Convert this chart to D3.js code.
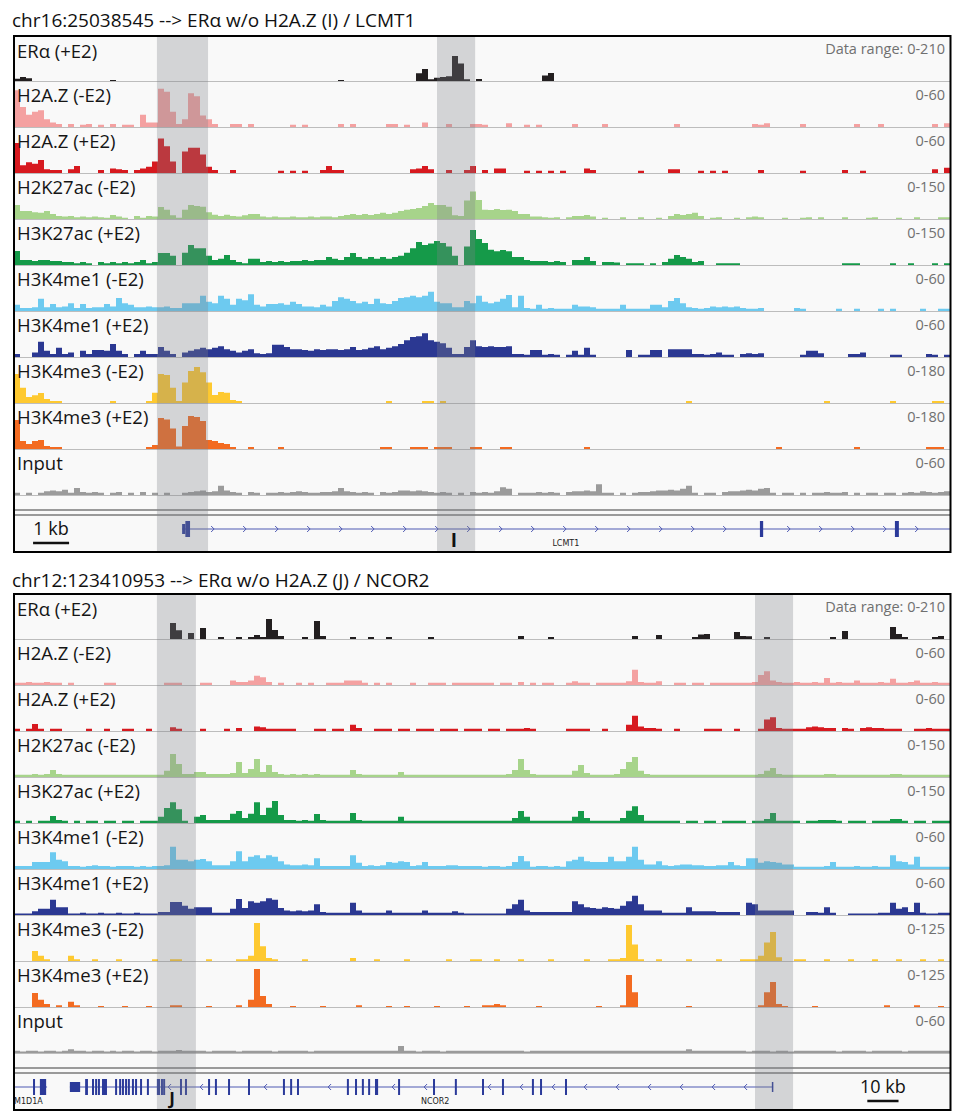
<!DOCTYPE html>
<html>
<head>
<meta charset="utf-8">
<script src="https://d3js.org/d3.v7.min.js"></script>
<style>
  body { margin: 0; background: #fff; }
  svg { display: block; font-family: "Open Sans", sans-serif; }
</style>
</head>
<body>
<svg id="chart" width="954" height="1118"></svg>
<script>
// ---------------- track metadata ----------------
const trackLabels = ["ERα (+E2)", "H2A.Z (-E2)", "H2A.Z (+E2)", "H2K27ac (-E2)", "H3K27ac (+E2)",
  "H3K4me1 (-E2)", "H3K4me1 (+E2)", "H3K4me3 (-E2)", "H3K4me3 (+E2)", "Input"];
const lcmt1Ranges = [210, 60, 60, 150, 150, 60, 60, 180, 180, 60];
const ncor2Ranges = [210, 60, 60, 150, 150, 60, 60, 125, 125, 60];

// ---------------- locus 1: LCMT1 (26 kb window, 156 bins) ----------------
const lcmt1ERa = [
10,18,12,0,0,0,0,0,0,0, 0,0,0,0,0,0,4,0,0,0, 0,0,0,0,0,0,0,0,0,0, 0,0,0,0,0,0,0,0,0,0,
0,0,0,0,0,0,0,0,0,0, 0,0,0,0,4,0,0,0,0,0, 0,0,0,0,0,0,0,35,55,8, 15,18,22,114,80,8,0,9,0,0,
0,0,0,0,0,0,0,0,25,36, 0,0,0,0,0,0,0,0,0,0, 0,0,0,0,0,0,0,0,0,0, 0,0,0,0,0,0,0,0,0,0,
0,0,0,0,0,0,0,0,0,0, 0,0,0,0,0,0,0,0,0,0, 0,0,0,0,0,0,0,0,0,0, 0,0,0,0,0,0];
const lcmt1H2AZm = [
48,26,16,20,22,10,6,4,0,4, 0,3,4,0,3,0,4,0,3,3, 0,16,6,6,50,46,20,4,10,44, 40,15,10,4,0,0,4,4,0,4,
0,0,0,0,0,0,3,0,3,0, 0,0,0,0,4,0,4,0,0,0, 0,0,4,4,0,3,0,0,6,0, 0,0,4,0,0,0,4,4,3,0,
0,0,5,0,0,3,0,3,0,0, 0,0,0,4,0,0,0,0,4,0, 0,0,0,0,0,0,0,0,0,0, 4,0,0,0,0,0,0,0,0,0,
0,0,0,4,3,5,0,0,0,0, 0,4,0,0,0,0,0,0,0,0, 4,0,0,0,4,0,0,0,0,0, 0,0,0,4,0,5];
const lcmt1H2AZp = [
39,10,14,12,17,5,4,4,0,5, 9,0,0,0,4,0,6,5,4,0, 4,6,8,15,45,35,15,0,28,33, 33,24,8,4,0,0,4,0,0,0,
0,0,0,0,3,0,3,0,3,0, 0,4,9,4,4,0,0,0,0,0, 0,0,0,0,0,0,5,6,9,5, 0,0,4,0,0,4,9,0,4,0,
6,6,0,0,0,3,0,3,0,3, 0,3,0,0,0,6,4,0,0,0, 0,0,0,0,3,0,0,0,0,5, 5,0,0,0,3,0,3,0,3,0,
0,0,0,0,4,0,0,0,0,0, 0,3,0,0,0,0,0,0,4,0, 0,3,0,0,0,0,0,0,0,0, 0,0,0,5,0,7];
const lcmt1H3K27acm = [
46,26,26,22,20,26,16,10,8,10, 6,8,6,8,6,4,13,8,4,0, 10,4,10,8,39,30,12,4,30,46, 42,40,22,14,10,14,10,8,12,16,
16,8,6,8,6,6,8,6,6,8, 6,8,8,6,10,13,16,13,16,13, 16,20,16,20,26,30,33,36,42,52, 46,46,40,12,10,60,90,62,30,29,
33,29,30,26,16,16,8,8,6,4, 6,0,6,10,10,13,8,0,4,0, 0,6,0,0,6,0,0,4,0,10, 16,13,16,20,10,0,4,6,0,0,
4,0,6,8,6,0,0,0,4,0, 0,4,6,0,6,0,0,0,6,0, 0,0,4,6,0,0,0,4,0,0, 6,0,0,0,6,6];
const lcmt1H3K27acp = [
46,16,16,13,16,16,13,13,10,10, 6,10,6,0,10,6,10,6,10,6, 10,16,6,10,39,39,30,0,40,65, 55,55,30,16,20,33,16,10,6,20,
20,10,13,10,13,10,13,13,16,13, 16,16,26,20,16,26,39,26,20,26, 20,26,20,26,30,40,55,75,65,70, 78,72,60,30,0,60,114,85,72,50,
45,49,45,26,26,16,13,13,13,10, 13,10,0,16,16,26,13,0,10,10, 8,0,6,6,6,0,6,0,10,20, 33,26,20,10,13,0,0,6,6,6,
6,0,0,0,0,0,0,0,0,0, 0,0,0,0,0,0,0,0,6,6, 6,0,0,0,0,0,6,0,0,6, 0,0,0,6,0,6];
const lcmt1H3K4me1m = [
8,4,4,5,16,5,9,5,6,10, 4,9,4,5,5,9,6,17,10,8, 5,5,6,5,5,6,4,4,10,10, 10,20,12,10,20,16,8,16,14,22,
8,6,9,9,10,8,12,9,6,6, 5,8,6,13,18,16,13,10,12,9, 16,10,9,13,17,18,20,18,20,25, 12,10,10,5,5,13,10,20,12,10,
12,16,21,5,20,4,3,8,3,4, 3,3,3,8,6,6,5,3,3,3, 3,8,3,3,3,3,8,8,5,13, 17,10,5,4,3,4,6,5,6,5,
6,4,3,3,4,0,0,0,0,0, 4,3,0,0,0,0,0,3,0,0, 3,0,0,0,3,0,3,0,0,0, 0,3,0,0,3,3];
const lcmt1H3K4me1p = [
4,0,0,6,20,8,4,12,4,6, 0,8,4,9,9,8,17,8,4,0, 4,8,4,4,13,8,4,0,6,8, 10,12,10,12,14,10,8,6,8,10,
5,4,5,16,16,13,10,10,9,8, 10,9,10,10,9,10,13,9,10,12, 14,10,12,14,17,22,26,27,31,22, 20,18,12,4,4,13,22,14,13,14,
13,13,14,4,4,3,9,9,3,4, 3,0,3,8,3,12,3,0,0,0, 0,0,9,0,3,3,9,9,0,10, 10,10,10,4,4,3,4,6,3,3,
0,4,5,4,5,0,0,0,0,0, 0,3,8,8,5,0,0,0,0,4, 4,6,0,0,0,0,3,3,0,0, 0,0,4,3,0,3];
const lcmt1H3K4me3m = [
113,60,23,30,39,16,8,8,0,0, 0,0,0,0,0,0,8,0,0,0, 0,0,8,40,113,110,60,8,80,125, 141,120,80,31,43,40,12,8,0,0,
0,0,0,0,0,0,0,0,0,0, 0,0,0,0,0,0,0,0,0,0, 0,0,8,0,0,0,0,0,8,8, 0,8,0,0,0,0,0,0,0,0,
0,0,0,0,0,0,0,0,0,0, 0,0,0,0,0,0,0,0,0,0, 0,0,0,0,0,0,0,0,0,0, 0,0,8,0,0,0,0,0,0,0,
0,0,0,0,0,0,0,0,0,0, 0,0,0,0,0,8,0,0,0,0, 0,0,0,0,0,0,8,0,0,0, 0,0,0,8,8,0];
const lcmt1H3K4me3p = [
113,31,20,31,35,12,8,8,0,0, 0,0,0,0,0,0,0,0,0,0, 0,0,8,16,121,115,80,10,90,129, 125,110,35,31,23,20,8,0,0,8,
0,0,0,0,8,0,0,0,0,0, 0,0,0,0,0,0,0,0,0,0, 0,8,8,0,0,0,8,8,8,0, 8,8,8,0,0,0,8,8,0,0,
0,8,8,0,0,0,0,0,0,0, 0,0,0,0,0,8,0,0,0,0, 0,0,0,0,0,0,0,0,0,0, 0,0,0,0,0,0,0,0,0,0,
0,0,0,0,0,0,0,8,0,0, 0,0,0,0,0,0,0,0,0,0, 8,0,0,0,0,0,0,0,0,0, 0,0,8,8,8,0];
const lcmt1Input = [
3,0,3,0,3,5,6,5,7,3, 9,4,3,4,3,0,3,4,0,3, 0,4,0,3,0,3,0,0,3,4, 5,6,4,5,12,6,4,3,0,4,
3,0,3,3,4,3,4,5,4,3, 3,4,4,5,9,5,4,3,4,3, 0,4,3,4,6,6,5,6,5,4, 3,4,3,0,3,0,4,3,4,3,
5,10,8,0,3,3,3,4,3,4, 3,0,4,5,5,6,5,14,3,3, 0,3,0,3,4,4,5,6,6,7, 6,8,12,3,0,3,3,0,4,5,
5,6,7,6,8,9,3,0,3,3, 0,3,0,3,3,4,3,3,4,0, 3,0,3,3,0,3,3,0,3,4, 3,5,4,3,4,5];

// LCMT1 gene model (kb from window start)
const lcmt1Span = [4.67, 26.0];
const lcmt1Utr = [[4.67, 4.76]];
const lcmt1Cds = [[4.76, 4.89], [20.72, 20.81], [24.47, 24.58]];
const lcmt1Regions = [[3.97, 5.39], [11.75, 12.81]];

// ---------------- locus 2: NCOR2 (300 kb window, 156 bins) ----------------
const ncor2ERa = [
0,0,0,0,0,0,0,0,0,0, 0,0,0,0,0,0,0,0,0,0, 0,0,0,0,0,0,73,40,0,27, 0,50,0,0,9,0,0,9,0,9,
18,9,91,41,14,0,0,0,9,0, 82,14,0,0,0,0,9,0,0,9, 0,0,9,0,0,0,0,0,0,9, 0,0,0,0,0,0,0,0,0,0,
0,0,0,0,14,0,0,0,0,9, 0,0,0,0,0,0,0,0,0,0, 0,0,0,14,0,0,0,18,0,0, 0,0,0,9,20,23,0,0,0,0,
32,14,12,0,0,9,0,0,0,0, 0,0,0,0,0,0,9,0,37,0, 0,0,0,0,0,0,55,23,9,0, 0,0,0,9,14,0];
const ncor2H2AZm = [
3,3,4,3,3,4,3,3,0,3, 0,0,0,0,0,3,3,0,0,0, 0,0,0,0,0,3,3,3,0,0, 0,3,3,0,0,0,6,4,4,6,
12,10,4,0,3,0,0,3,0,3, 0,0,3,3,3,6,6,6,3,0, 3,0,3,0,0,0,3,0,0,3, 3,3,0,3,3,3,3,3,3,3,
0,3,3,0,4,0,3,0,3,3, 0,0,3,5,3,3,0,3,3,3, 3,3,5,20,4,3,3,5,0,0, 3,3,0,3,3,0,3,3,3,3,
3,3,3,4,13,18,6,4,3,3, 4,3,3,4,3,9,3,4,3,3, 6,3,3,3,4,3,8,3,3,4, 6,3,3,4,3,3];
const ncor2H2AZp = [
3,0,3,9,3,0,3,3,0,0, 0,0,3,0,0,3,0,0,3,3, 0,0,3,0,0,0,5,3,0,0, 0,3,0,0,0,3,0,4,0,0,
6,5,3,3,3,3,3,0,0,0, 3,3,0,3,3,0,8,4,0,0, 3,3,3,0,3,3,0,3,3,3, 0,3,3,3,0,3,3,3,0,3,
3,0,3,3,3,4,3,0,0,0, 0,0,3,3,3,3,0,0,3,0, 0,0,8,20,6,4,4,3,0,0, 3,0,0,0,0,3,3,3,0,0,
3,0,0,0,3,15,18,4,3,3, 3,3,5,6,5,4,4,0,4,3, 0,4,5,4,4,3,3,3,0,0, 3,3,4,3,3,3];
const ncor2H3K27acm = [
7,7,7,10,7,10,23,10,7,7, 7,7,7,7,7,7,7,7,7,7, 7,7,7,7,7,20,75,42,10,10, 16,16,10,10,10,10,13,49,13,26,
59,16,39,16,10,7,10,7,10,7, 10,7,7,7,7,7,23,10,7,7, 7,7,7,7,16,7,7,7,7,7, 7,7,7,7,7,7,7,7,7,7,
7,7,10,23,59,23,10,7,7,7, 7,7,7,20,39,13,7,7,7,7, 10,26,49,65,20,10,7,7,7,7, 7,7,7,7,7,7,7,7,7,7,
7,7,7,7,10,20,29,10,7,7, 7,7,7,7,7,10,10,7,7,7, 7,7,7,7,7,7,10,10,7,7, 7,7,7,7,7,7];
const ncor2H3K27acp = [
7,0,7,0,7,7,23,10,7,0, 7,0,7,7,0,7,7,0,7,7, 0,7,7,7,20,49,68,45,7,0, 20,26,10,10,10,10,30,39,16,30,
68,26,50,72,26,10,10,7,10,7, 29,10,7,7,7,7,33,10,7,7, 7,7,7,7,20,7,7,7,7,7, 7,7,7,7,7,7,7,7,7,7,
7,7,7,16,39,20,7,7,7,7, 7,7,7,20,39,16,7,7,7,7, 7,16,40,55,26,7,7,7,7,7, 7,0,7,7,0,7,7,0,7,7,
7,7,0,7,7,13,33,7,7,7, 7,0,7,7,10,10,10,7,0,7, 7,7,0,7,7,7,13,13,7,0, 7,7,0,7,7,7];
const ncor2H3K4me1m = [
4,4,4,9,9,9,22,12,10,4, 4,3,4,5,4,4,3,4,4,4, 3,4,3,4,4,5,29,12,12,10, 12,13,10,5,5,5,10,23,10,16,
18,14,18,16,10,6,5,5,6,5, 14,4,4,4,4,4,18,8,4,5, 4,5,9,8,10,9,4,5,9,4, 4,4,5,5,4,4,4,4,3,4,
4,3,4,9,17,10,3,4,4,3, 4,3,10,12,16,10,9,9,9,16, 10,10,16,29,12,6,6,10,5,4, 5,6,6,5,5,4,4,5,5,9,
5,4,14,14,8,10,9,8,6,6, 3,3,3,3,3,4,9,3,3,3, 4,3,3,4,3,3,18,10,9,6, 16,3,3,3,3,3];
const ncor2H3K4me1p = [
2,2,2,5,8,8,20,10,10,2, 2,3,2,2,3,2,2,3,2,2, 3,2,2,2,4,4,17,17,12,8, 10,10,10,3,3,3,8,21,9,18,
16,18,22,20,9,6,5,6,5,6, 14,4,3,3,3,3,16,6,3,3, 3,3,6,3,3,3,3,3,6,3, 3,3,3,5,3,2,2,2,2,2,
2,2,8,14,20,6,4,4,4,4, 4,4,4,18,14,10,9,8,10,9, 8,12,18,25,14,6,6,6,3,3, 3,3,10,5,5,5,5,4,4,4,
4,0,16,14,6,6,6,6,6,6, 0,0,4,4,3,10,3,0,0,2, 2,2,2,2,3,3,16,8,10,4, 16,3,2,2,3,3];
const ncor2H3K4me3m = [
0,0,0,27,14,5,0,0,0,14, 5,0,0,5,0,0,0,5,0,0, 0,0,0,5,0,0,5,5,0,0, 0,0,5,0,0,0,0,5,5,14,
103,40,8,5,0,0,0,0,5,0, 0,0,0,0,0,0,8,0,0,0, 5,0,0,0,0,5,0,0,0,0, 0,0,5,0,0,0,5,5,0,0,
5,0,0,0,5,0,0,0,0,5, 0,0,0,0,0,5,0,0,0,5, 5,8,98,45,5,0,0,5,0,0, 0,0,5,0,0,0,0,5,0,0,
0,5,5,5,14,50,79,10,0,0, 5,5,0,0,0,5,0,0,0,5, 0,0,0,5,0,0,0,5,0,0, 0,5,0,0,5,0];
const ncor2H3K4me3p = [
0,0,0,38,20,8,0,5,0,14, 5,0,0,0,3,0,0,0,3,0, 0,0,3,0,0,0,5,5,0,0, 0,0,3,0,0,0,0,5,0,20,
103,30,8,0,0,0,3,0,0,0, 0,3,0,0,0,0,0,5,0,0, 0,0,3,0,0,3,0,0,0,0, 3,0,0,0,0,3,0,0,5,5,
8,5,0,0,0,0,0,3,0,0, 0,0,0,0,0,0,0,3,0,0, 0,5,87,40,0,0,0,0,0,0, 0,0,3,0,0,0,0,0,0,0,
0,0,0,0,5,40,68,8,3,0, 0,0,0,3,0,0,0,0,0,0, 0,0,0,0,0,5,0,0,0,0, 5,0,0,0,3,0];
const ncor2Input = [
3,2,3,3,2,3,3,2,3,5, 3,3,2,3,3,2,3,2,3,3, 2,3,3,2,3,3,3,4,3,3, 3,3,2,3,3,3,3,2,3,3,
3,3,3,2,3,3,3,3,3,2, 3,3,3,3,3,3,3,3,3,3, 3,3,3,3,9,3,3,2,3,3, 3,2,3,3,3,3,3,3,3,3,
3,3,3,3,3,2,3,3,3,3, 3,3,3,3,3,3,3,3,3,3, 3,3,3,3,3,3,3,3,3,3, 3,3,5,3,3,3,3,3,3,3,
3,3,2,3,3,3,2,3,3,2, 3,3,3,3,3,3,3,2,3,3, 3,3,2,3,3,3,3,3,2,3, 3,3,3,3,3,3];

// NCOR2 locus gene models (kb from window start)
const m1d1aSpan = [0, 10.6];
const m1d1aCds = [[6.1, 6.6], [8.3, 10.3]];
const ncor2Span = [17.9, 243.3];
const ncor2Utr = [[17.9, 21.2], [242.9, 243.3]];
const ncor2Cds = [
  [22.8, 23.7], [25.0, 25.6], [26.0, 26.6], [26.9, 27.5], [28.2, 29.8], [32.4, 33.0], [33.7, 34.3],
  [34.6, 35.2], [35.6, 36.2], [36.5, 37.1], [37.8, 38.4], [38.8, 39.4], [40.4, 41.0], [42.6, 43.2],
  [45.8, 46.8], [47.1, 47.7], [47.8, 48.4], [53.2, 53.8], [54.8, 55.4], [62.2, 62.8], [64.4, 65.0],
  [68.6, 69.2], [75.0, 75.6], [86.2, 86.8], [88.5, 89.1], [90.7, 91.3], [106.7, 107.3], [109.3, 109.9],
  [111.5, 112.1], [113.5, 114.1], [115.7, 116.7], [123.1, 123.7], [134.3, 134.9], [141.3, 141.9],
  [150.0, 150.6], [156.4, 157.0], [166.0, 166.6], [168.6, 169.2], [176.6, 177.2]];
const ncor2Regions = [[45.8, 58.3], [237.5, 249.7]];

// ---------------- drawing ----------------
const trackColors = ["#231f20", "#f4a1a1", "#d7191f", "#a7d48b", "#159a49",
  "#6dcaf0", "#2b3892", "#fec930", "#f36b21", "#9b9b9b"];
const geneLine = "#4f5ab3";
const exonFill = "#2b3a9a";
const X0 = 14, X1 = 950, TRACK_H = 46;

const svg = d3.select("#chart");

const panels = [
  {
    title: "chr16:25038545 --> ERα w/o H2A.Z (I) / LCMT1", titleY: 27, top: 35, spanKb: 26,
    signals: [lcmt1ERa, lcmt1H2AZm, lcmt1H2AZp, lcmt1H3K27acm, lcmt1H3K27acp, lcmt1H3K4me1m,
      lcmt1H3K4me1p, lcmt1H3K4me3m, lcmt1H3K4me3p, lcmt1Input],
    ranges: lcmt1Ranges, regions: lcmt1Regions,
    genes: [{ name: "LCMT1", span: lcmt1Span, strand: "+", utr: lcmt1Utr, cds: lcmt1Cds, labelKb: 15.33 }],
    scaleKb: 1, scaleLabel: "1 kb", scaleAtKb: 0.53,
    mark: { text: "I", kb: 12.22, size: 19 }
  },
  {
    title: "chr12:123410953 --> ERα w/o H2A.Z (J) / NCOR2", titleY: 587, top: 593, spanKb: 300,
    signals: [ncor2ERa, ncor2H2AZm, ncor2H2AZp, ncor2H3K27acm, ncor2H3K27acp, ncor2H3K4me1m,
      ncor2H3K4me1p, ncor2H3K4me3m, ncor2H3K4me3p, ncor2Input],
    ranges: ncor2Ranges, regions: ncor2Regions,
    genes: [
      { name: "M1D1A", span: m1d1aSpan, strand: "+", utr: [], cds: m1d1aCds, labelKb: 0, anchor: "start", noChevrons: true },
      { name: "NCOR2", span: ncor2Span, strand: "-", utr: ncor2Utr, cds: ncor2Cds, labelKb: 135 }
    ],
    scaleKb: 10, scaleLabel: "10 kb", scaleAtKb: 273.5,
    mark: { text: "J", kb: 50.7, size: 17 }
  }
];

panels.forEach(p => {
  const g = svg.append("g");
  const x = d3.scaleLinear().domain([0, p.spanKb]).range([X0, X1]);
  const n = p.signals.length;
  const lastBase = p.top + TRACK_H * n;
  const bottom = lastBase + 56;

  g.append("rect").attr("x", X0).attr("y", p.top).attr("width", X1 - X0)
    .attr("height", bottom - p.top).attr("fill", "#f9f9f9");

  // signal tracks
  p.signals.forEach((vals, i) => {
    const t0 = p.top + TRACK_H * i, base = t0 + TRACK_H;
    const y = d3.scaleLinear().domain([0, p.ranges[i]]).range([base, t0]).clamp(true);
    const bin = p.spanKb / vals.length;
    const pts = vals.map((v, j) => [j * bin, v]);
    pts.push([p.spanKb, vals[vals.length - 1]]);
    const area = d3.area().x(d => x(d[0])).y0(base).y1(d => y(d[1])).curve(d3.curveStepAfter);
    g.append("path").attr("d", area(pts)).attr("fill", trackColors[i]);
    g.append("line").attr("x1", X0).attr("x2", X1).attr("y1", base + 0.5).attr("y2", base + 0.5)
      .attr("stroke", "#bdbdbd").attr("stroke-width", 1);
    g.append("text").attr("x", 17).attr("y", t0 + 21 + (i === 0 ? 2 : 0))
      .attr("font-size", 18.5).attr("fill", "#151515").text(trackLabels[i]);
    g.append("text").attr("x", 945).attr("y", t0 + 19).attr("text-anchor", "end")
      .attr("font-size", 14.5).attr("fill", "#707070")
      .text((i === 0 ? "Data range: " : "") + "0-" + p.ranges[i]);
  });

  // separator above gene track
  [15, 20].forEach(dy => g.append("line").attr("x1", X0).attr("x2", X1)
    .attr("y1", lastBase + dy).attr("y2", lastBase + dy).attr("stroke", "#7a7a7a").attr("stroke-width", 1.6));

  // gene track
  const gy = lastBase + 34;
  p.genes.forEach(gene => {
    const gx0 = x(gene.span[0]), gx1 = x(gene.span[1]);
    g.append("line").attr("x1", gx0).attr("x2", gx1).attr("y1", gy).attr("y2", gy)
      .attr("stroke", geneLine).attr("stroke-width", 1.2);
    const exPx = gene.utr.concat(gene.cds).map(e => [x(e[0]), x(e[1])]);
    if (!gene.noChevrons) {
      const dir = gene.strand === "+" ? 1 : -1;
      const startPx = dir > 0 ? gx0 + 31 : gx1 - 28;
      for (let cx = startPx; dir > 0 ? cx < gx1 - 2 : cx > gx0 + 2; cx += 32 * dir) {
        if (exPx.some(e => cx > e[0] - 4 && cx < e[1] + 4)) continue;
        g.append("path")
          .attr("d", `M${cx - 2 * dir},${gy - 3}L${cx + 1 * dir},${gy}L${cx - 2 * dir},${gy + 3}`)
          .attr("fill", "none").attr("stroke", geneLine).attr("stroke-width", 1);
      }
    }
    gene.utr.forEach(e => g.append("rect").attr("x", x(e[0])).attr("y", gy - 5)
      .attr("width", Math.max(1.5, x(e[1]) - x(e[0]))).attr("height", 10).attr("fill", exonFill));
    gene.cds.forEach(e => g.append("rect").attr("x", x(e[0])).attr("y", gy - 8)
      .attr("width", Math.max(2, x(e[1]) - x(e[0]))).attr("height", 16).attr("fill", exonFill));
    g.append("text").attr("x", x(gene.labelKb))
      .attr("y", gy + 17).attr("text-anchor", gene.anchor || "middle")
      .attr("font-family", "DejaVu Sans, sans-serif").attr("font-size", 8)
      .attr("fill", "#222").text(gene.name);
  });

  // scale bar
  const sx0 = x(p.scaleAtKb), sx1 = x(p.scaleAtKb + p.scaleKb);
  g.append("text").attr("x", (sx0 + sx1) / 2).attr("y", gy + 6).attr("text-anchor", "middle")
    .attr("font-size", 18).attr("fill", "#111").text(p.scaleLabel);
  g.append("line").attr("x1", sx0).attr("x2", sx1).attr("y1", gy + 14).attr("y2", gy + 14)
    .attr("stroke", "#111").attr("stroke-width", 2.5);

  // regions of interest
  p.regions.forEach(r => g.append("rect").attr("x", x(r[0])).attr("y", p.top + 1)
    .attr("width", x(r[1]) - x(r[0])).attr("height", bottom - p.top - 1)
    .attr("fill", "rgb(125,128,135)").attr("fill-opacity", 0.31));

  // enhancer mark
  g.append("text").attr("x", x(p.mark.kb)).attr("y", gy + 18).attr("text-anchor", "middle")
    .attr("font-size", p.mark.size).attr("font-weight", "bold").attr("fill", "#111").text(p.mark.text);

  // frame and title
  g.append("rect").attr("x", X0).attr("y", p.top + 1).attr("width", X1 - X0 + 0.5)
    .attr("height", bottom - p.top).attr("fill", "none").attr("stroke", "#000").attr("stroke-width", 2);
  g.append("text").attr("x", 12).attr("y", p.titleY).attr("font-size", 19)
    .attr("fill", "#111").text(p.title);
});
</script>
</body>
</html>
